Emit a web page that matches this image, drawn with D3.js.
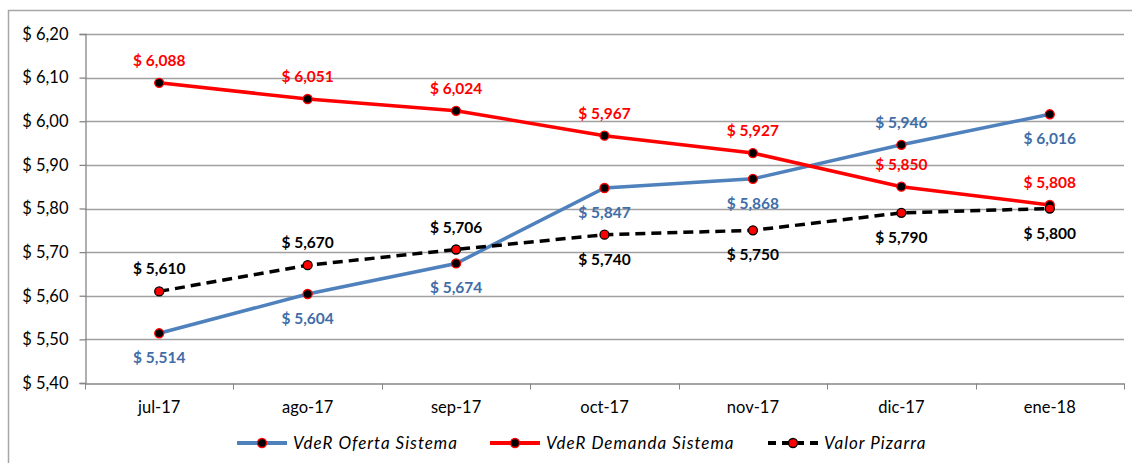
<!DOCTYPE html>
<html>
<head>
<meta charset="utf-8">
<script src="https://cdn.jsdelivr.net/npm/d3@7"></script>
<style>
  body { margin: 0; background: #fff; }
  text { font-family: Lato, "Open Sans", sans-serif; }
</style>
</head>
<body>
<svg id="chart" width="1132" height="463"></svg>
<script>
// data
var months = ["jul-17", "ago-17", "sep-17", "oct-17", "nov-17", "dic-17", "ene-18"];
var oferta = [5.514, 5.604, 5.674, 5.847, 5.868, 5.946, 6.016];
var demanda = [6.088, 6.051, 6.024, 5.967, 5.927, 5.850, 5.808];
var pizarra = [5.610, 5.670, 5.706, 5.740, 5.750, 5.790, 5.800];
var yTicks = [5.40, 5.50, 5.60, 5.70, 5.80, 5.90, 6.00, 6.10, 6.20];

// where each label sits: 1 = above the point, -1 = below
var ofertaPos = [-1, -1, -1, -1, -1, 1, -1];
var demandaPos = [1, 1, 1, 1, 1, 1, 1];
var pizarraPos = [1, 1, 1, -1, -1, -1, -1];

var series = [
	{name: "VdeR Oferta Sistema", values: oferta, pos: ofertaPos, color: "#4F81BD", text: "#3F6DA8", dash: null, mFill: "#000", mStroke: "#FF0000"},
	{name: "VdeR Demanda Sistema", values: demanda, pos: demandaPos, color: "#FF0000", text: "#FF0000", dash: null, mFill: "#000", mStroke: "#FF0000"},
	{name: "Valor Pizarra", values: pizarra, pos: pizarraPos, color: "#000000", text: "#000000", dash: "10,6", mFill: "#FF0000", mStroke: "#000"}
];

var svg = d3.select("#chart");

// outer chart border
svg.append("rect")
	.attr("x", 8.5).attr("y", 10.5)
	.attr("width", 1140).attr("height", 470)
	.attr("fill", "none").attr("stroke", "#a6a6a6").attr("stroke-width", 1.5);

var x = d3.scaleBand().domain(months).range([85, 1124]);
var y = d3.scaleLinear().domain([5.4, 6.2]).range([383, 34]);

function cx(i) { return x(months[i]) + x.bandwidth() / 2; }
function fmt(v, d) { return "$ " + v.toFixed(d).replace(".", ","); }

// gridlines
svg.append("g")
	.selectAll("line")
	.data(yTicks.slice(1))
	.join("line")
	.attr("x1", 85).attr("x2", 1124)
	.attr("y1", function(d) { return Math.round(y(d)) + 0.5; })
	.attr("y2", function(d) { return Math.round(y(d)) + 0.5; })
	.attr("stroke", "#a0a0a0").attr("stroke-width", 1.3);

// y axis
var yAxis = svg.append("g")
	.attr("transform", "translate(85.5,0)")
	.call(d3.axisLeft(y).tickValues(yTicks).tickSize(6).tickPadding(11)
		.tickFormat(function(d) { return fmt(d, 2); }));
yAxis.selectAll("text").attr("font-size", 16.5).attr("fill", "#000")
	.style("font-family", "Lato, sans-serif");

// x axis
var xAxis = svg.append("g")
	.attr("transform", "translate(0,383.5)")
	.call(d3.axisBottom(x).tickSize(0).tickPadding(18));
xAxis.selectAll("text").attr("font-size", 16.5).attr("fill", "#000")
	.style("font-family", "Lato, sans-serif");
// category boundary ticks
xAxis.selectAll(".bound")
	.data(months.concat(["end"]))
	.join("line")
	.attr("class", "bound")
	.attr("x1", function(d, i) { return Math.round(85 + i * x.bandwidth()) + 0.5; })
	.attr("x2", function(d, i) { return Math.round(85 + i * x.bandwidth()) + 0.5; })
	.attr("y1", 0).attr("y2", 6)
	.attr("stroke", "#868686");

svg.selectAll(".domain, .tick line").attr("stroke", "#868686").attr("stroke-width", 1.3);

var line = d3.line()
	.x(function(d, i) { return cx(i); })
	.y(function(d) { return y(d); });

// lines
series.forEach(function(s) {
	svg.append("path")
		.datum(s.values)
		.attr("d", line)
		.attr("fill", "none")
		.attr("stroke", s.color)
		.attr("stroke-width", 3.5)
		.attr("stroke-dasharray", s.dash);
});

// markers
series.forEach(function(s) {
	svg.append("g")
		.selectAll("circle")
		.data(s.values)
		.join("circle")
		.attr("cx", function(d, i) { return cx(i); })
		.attr("cy", function(d) { return y(d); })
		.attr("r", 4.5)
		.attr("fill", s.mFill)
		.attr("stroke", s.mStroke)
		.attr("stroke-width", 1.3);
});

// data labels
series.forEach(function(s) {
	svg.append("g")
		.selectAll("text")
		.data(s.values)
		.join("text")
		.attr("x", function(d, i) { return cx(i); })
		.attr("y", function(d, i) { return s.pos[i] > 0 ? y(d) - 17 : y(d) + 30; })
		.attr("text-anchor", "middle")
		.attr("font-size", 15.5)
		.attr("font-weight", "bold")
		.attr("fill", s.text)
		.text(function(d) { return fmt(d, 3); });
});

// legend
var legendX = [237, 490, 768];
var legend = svg.append("g")
	.selectAll("g")
	.data(series)
	.join("g")
	.attr("transform", function(d, i) { return "translate(" + legendX[i] + ",443)"; });

legend.append("line")
	.attr("x1", 0).attr("x2", 50)
	.attr("stroke", function(d) { return d.color; })
	.attr("stroke-width", 4)
	.attr("stroke-dasharray", function(d) { return d.dash ? "8,6" : null; });
legend.append("circle")
	.attr("cx", 25).attr("r", 4.5)
	.attr("fill", function(d) { return d.mFill; })
	.attr("stroke", function(d) { return d.mStroke; })
	.attr("stroke-width", 1.3);
legend.append("text")
	.attr("x", 56).attr("y", 6)
	.attr("font-size", 17)
	.attr("font-style", "italic")
	.attr("letter-spacing", 1)
	.attr("fill", "#000")
	.text(function(d) { return d.name; });
</script>
</body>
</html>
